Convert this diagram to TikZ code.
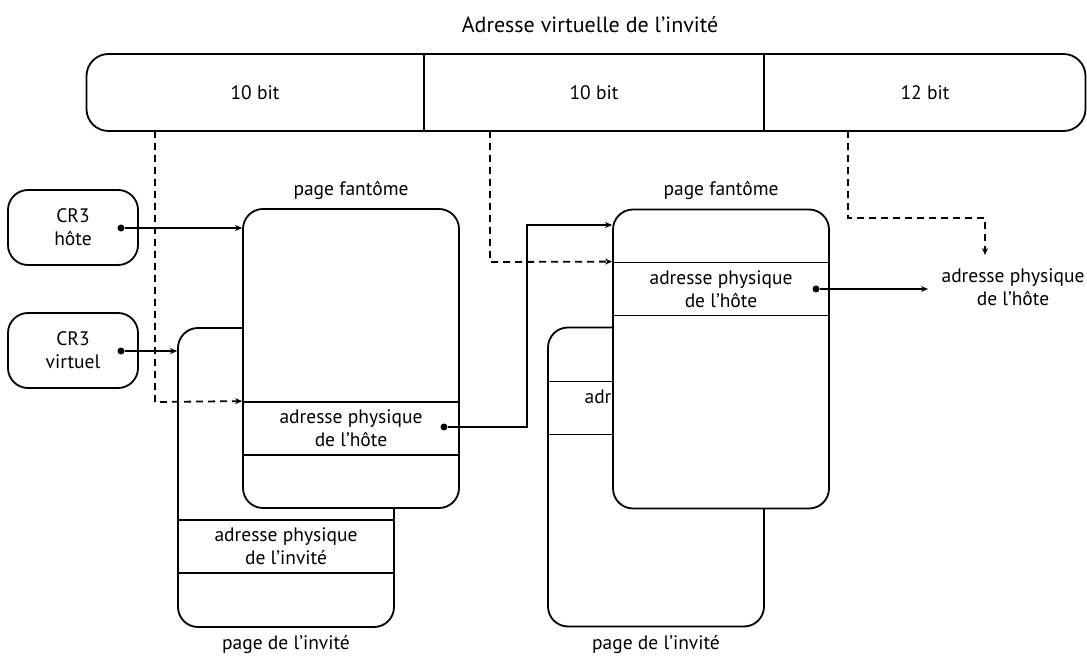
\documentclass[tikz,border=0pt]{standalone}
\usepackage{fontspec}
\setmainfont{PT Sans}
\usetikzlibrary{arrows.meta}
\begin{document}
\begin{tikzpicture}[x=1pt,y=-1pt,
  line width=1.8pt,
  font=\fontsize{19.5}{23}\selectfont,
  page/.style={draw, fill=white, rounded corners=20pt, minimum width=216pt,
    minimum height=299pt, inner sep=0pt},
  entry/.style={draw, minimum width=216pt, minimum height=53pt, inner sep=0pt,
    align=center},
  reg/.style={draw, rounded corners=20pt, minimum width=130pt,
    minimum height=75pt, align=center, inner sep=0pt},
  lbl/.style={inner sep=0pt, align=center},
  arr/.style={-{Stealth[length=7pt,width=6pt]}},
  dsh/.style={arr, dash pattern=on 7pt off 5pt},
  dot/.style={circle, fill=black, inner sep=0pt, minimum size=7pt}]
\useasboundingbox (0,0) rectangle (1087,660);

% virtual address register
\node[lbl, font=\fontsize{22}{26}\selectfont] (title) at (590,25) {Adresse virtuelle de l'invité};
\node[draw, rounded corners=22pt, minimum width=999pt, minimum height=77pt,
  inner sep=0pt] (bar) at (586,92.5) {};
\draw (bar.north -| 424,0) -- (bar.south -| 424,0);
\draw (bar.north -| 764,0) -- (bar.south -| 764,0);
\node[lbl] (f1) at (255,93) {10 bit};
\node[lbl] (f2) at (594,93) {10 bit};
\node[lbl] (f3) at (925,93) {12 bit};

% CR3 registers
\node[reg] (cr3h) at (73,227.5) {CR3\\hôte};
\node[reg] (cr3v) at (73,350.5) {CR3\\virtuel};

% guest pages
\node[page] (gl) at (286,477.5) {};
\node[entry] (glrow) at (286,546.5) {adresse physique\\de l'invité};
\node[lbl] (gllbl) at (286,645) {page de l'invité};
\node[page] (gr) at (656,477) {};
\node[entry] (grrow) at (656,408) {adresse physique\\de l'invité};
\node[lbl] (grlbl) at (656,645) {page de l'invité};

% shadow pages
\node[page] (sl) at (351,358.5) {};
\node[entry] (slrow) at (351,428.5) {adresse physique\\de l'hôte};
\node[lbl] (sllbl) at (351,190) {page fantôme};
\node[page] (sr) at (721,359) {};
\node[entry] (srrow) at (721,289) {adresse physique\\de l'hôte};
\node[lbl] (srlbl) at (721,190) {page fantôme};

% resulting host physical address
\node[lbl] (res) at (1013,287) {adresse physique\\de l'hôte};

% dots
\node[dot] (p1) at (121,228) {};
\node[dot] (p2) at (121,351) {};
\node[dot] (p3) at (444,427) {};
\node[dot] (p4) at (816,289) {};

% solid connectors
\draw[arr] (p1) -- (p1 -| sl.west);
\draw[arr] (p2) -- (p2 -| gl.west);
\draw[arr] (p3) -- (527,427) -- (527,225) -- (sr.west |- 0,225);
\draw[arr] (p4) -- (928,289);

% dashed index lines
\coordinate (i1) at (155,131);
\coordinate (i2) at (490,131);
\coordinate (i3) at (848,131);
\draw[dsh] (i1) -- (155,402) -- (slrow.north west);
\draw[dsh] (i2) -- (490,262) -- (srrow.north west);
\draw[dsh] (i3) -- (848,218) -- (985,218) -- (985,255);
\end{tikzpicture}
\end{document}
